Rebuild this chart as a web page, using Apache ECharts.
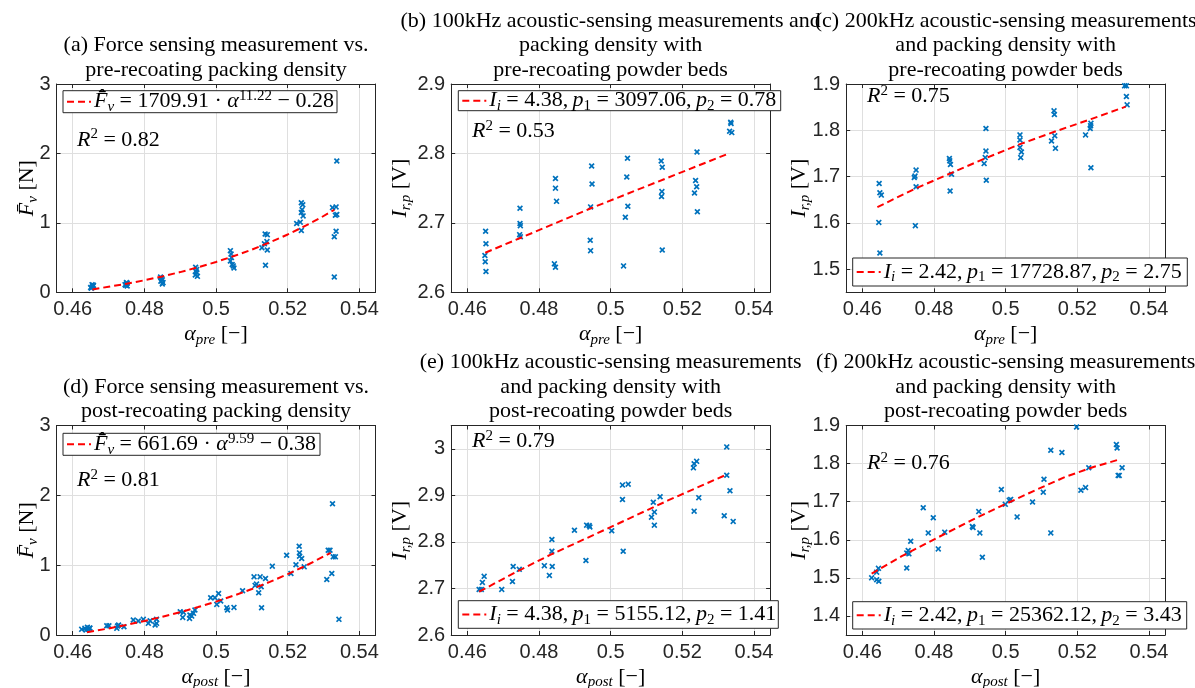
<!DOCTYPE html>
<html>
<head>
<meta charset="utf-8">
<title>Packing density vs. sensing measurements</title>
<script src="https://cdn.jsdelivr.net/npm/echarts@6/dist/echarts.min.js"></script>
<style>
html, body { margin: 0; padding: 0; background: #fff; }
#chart { width: 1195px; height: 688px; }
</style>
</head>
<body>
<div id="chart"></div>
<script>
// ---- tick labels ----
const alphaTicks = [0.46, 0.48, 0.5, 0.52, 0.54];
const forceTicks = [0, 1, 2, 3];
const bTicks = [2.6, 2.7, 2.8, 2.9];
const cTicks = [1.5, 1.6, 1.7, 1.8, 1.9];
const eTicks = [2.6, 2.7, 2.8, 2.9, 3];
const fTicks = [1.4, 1.5, 1.6, 1.7, 1.8, 1.9];

// ---- (a) force vs pre-recoating packing density ----
const aAlpha = [0.4652, 0.4655, 0.4658, 0.4654, 0.4650, 0.4657,
  0.4748, 0.4750, 0.4752, 0.4746, 0.4750, 0.4752,
  0.4845, 0.4848, 0.4850, 0.4846, 0.4852, 0.4850,
  0.4943, 0.4946, 0.4944, 0.4946, 0.4942, 0.4948,
  0.5040, 0.5042, 0.5043, 0.5040, 0.5045, 0.5048, 0.5050,
  0.5137, 0.5143, 0.5142, 0.5135, 0.5128, 0.5143, 0.5138,
  0.5225, 0.5235, 0.5238, 0.5242, 0.5240, 0.5238, 0.5243, 0.5238,
  0.5325, 0.5335, 0.5337, 0.5333, 0.5335, 0.5330, 0.5330, 0.5337];
const aForce = [0.06, 0.08, 0.10, 0.11, 0.07, 0.09,
  0.10, 0.12, 0.13, 0.11, 0.14, 0.09,
  0.22, 0.20, 0.18, 0.16, 0.14, 0.12,
  0.36, 0.33, 0.30, 0.28, 0.25, 0.23,
  0.60, 0.55, 0.50, 0.45, 0.40, 0.38, 0.35,
  0.84, 0.83, 0.73, 0.70, 0.64, 0.61, 0.39,
  0.99, 1.01, 1.29, 1.26, 1.19, 1.15, 1.10, 0.89,
  1.22, 1.23, 1.12, 1.11, 0.88, 0.80, 0.22, 1.89];
const aFitAlpha = [0.4655, 0.470, 0.475, 0.480, 0.485, 0.490, 0.495, 0.500, 0.505, 0.510, 0.515, 0.520, 0.525, 0.529, 0.533];
const aFitForce = [0.041, 0.080, 0.123, 0.173, 0.229, 0.291, 0.360, 0.437, 0.522, 0.615, 0.719, 0.833, 0.959, 1.068, 1.188];

// ---- (b) 100kHz vs pre-recoating ----
const bAlpha = [0.4651, 0.4652, 0.4649, 0.4650, 0.4652,
  0.4747, 0.4747, 0.4748, 0.4746, 0.4748,
  0.4846, 0.4846, 0.4849, 0.4843, 0.4846,
  0.4947, 0.4948, 0.4944, 0.4943, 0.4944,
  0.5047, 0.5045, 0.5048, 0.5041, 0.5036,
  0.5141, 0.5144, 0.5143, 0.5142, 0.5144,
  0.5241, 0.5237, 0.5240, 0.5234, 0.5242,
  0.5335, 0.5336, 0.5332, 0.5338];
const bInt = [2.688, 2.670, 2.653, 2.644, 2.630,
  2.721, 2.699, 2.696, 2.683, 2.680,
  2.764, 2.750, 2.731, 2.641, 2.636,
  2.782, 2.756, 2.723, 2.675, 2.660,
  2.793, 2.766, 2.724, 2.708, 2.638,
  2.789, 2.780, 2.745, 2.738, 2.661,
  2.802, 2.761, 2.752, 2.743, 2.716,
  2.845, 2.843, 2.832, 2.830];
const bFitAlpha = [0.4650, 0.4945, 0.5330];
const bFitInt = [2.657, 2.721, 2.800];

// ---- (c) 200kHz vs pre-recoating ----
const cAlpha = [0.4647, 0.4649, 0.4653, 0.4646, 0.4649,
  0.4750, 0.4747, 0.4745, 0.4750, 0.4748,
  0.4843, 0.4844, 0.4846, 0.4849, 0.4845,
  0.4945, 0.4945, 0.4943, 0.4940, 0.4946,
  0.5040, 0.5040, 0.5040, 0.5044, 0.5042,
  0.5135, 0.5136, 0.5137, 0.5128, 0.5139,
  0.5238, 0.5237, 0.5236, 0.5223, 0.5238,
  0.5332, 0.5337, 0.5337, 0.5339];
const cInt = [1.685, 1.665, 1.660, 1.601, 1.535,
  1.714, 1.701, 1.698, 1.678, 1.594,
  1.739, 1.734, 1.726, 1.705, 1.669,
  1.804, 1.755, 1.741, 1.728, 1.692,
  1.790, 1.779, 1.763, 1.753, 1.741,
  1.842, 1.834, 1.788, 1.777, 1.761,
  1.815, 1.810, 1.804, 1.790, 1.719,
  1.896, 1.896, 1.873, 1.855];
const cFitAlpha = [0.4642, 0.4745, 0.4849, 0.4945, 0.5040, 0.5140, 0.5238, 0.5335];
const cFitInt = [1.634, 1.673, 1.708, 1.740, 1.770, 1.798, 1.824, 1.851];

// ---- (d) force vs post-recoating packing density ----
const dAlpha = [0.4625, 0.4634, 0.4637, 0.4641, 0.4644, 0.4647, 0.4648,
  0.4695, 0.4701, 0.4723, 0.4725, 0.4728, 0.4743,
  0.4769, 0.4783, 0.4797, 0.4811, 0.4816, 0.4830, 0.4834, 0.4834,
  0.4900, 0.4907, 0.4909, 0.4926, 0.4927, 0.4932, 0.4937, 0.4941,
  0.4985, 0.4997, 0.5002, 0.5007, 0.5013, 0.5030, 0.5032, 0.5050,
  0.5074, 0.5106, 0.5109, 0.5113, 0.5119, 0.5123, 0.5126, 0.5127, 0.5138,
  0.5157, 0.5197, 0.5209, 0.5223, 0.5232, 0.5233, 0.5233, 0.5239, 0.5246,
  0.5309, 0.5313, 0.5318, 0.5323, 0.5325, 0.5327, 0.5333, 0.5343];
const dForce = [0.081, 0.095, 0.071, 0.11, 0.081, 0.095, 0.10,
  0.133, 0.133, 0.095, 0.129, 0.143, 0.119,
  0.214, 0.20, 0.224, 0.167, 0.205, 0.143, 0.224, 0.167,
  0.333, 0.252, 0.324, 0.238, 0.286, 0.271, 0.31, 0.357,
  0.533, 0.533, 0.438, 0.595, 0.486, 0.39, 0.357, 0.395,
  0.633, 0.833, 0.71, 0.729, 0.605, 0.833, 0.69, 0.39, 0.81,
  0.986, 1.143, 0.881, 1.005, 1.271, 1.176, 1.129, 1.095, 0.976,
  0.795, 1.214, 1.214, 0.881, 1.88, 1.119, 1.119, 0.224];
const dFitAlpha = [0.464, 0.470, 0.475, 0.480, 0.485, 0.490, 0.495, 0.500, 0.505, 0.510, 0.515, 0.520, 0.525, 0.532];
const dFitForce = [0.039, 0.094, 0.145, 0.201, 0.261, 0.327, 0.400, 0.478, 0.565, 0.658, 0.760, 0.871, 0.991, 1.177];

// ---- (e) 100kHz vs post-recoating ----
const eAlpha = [0.4633, 0.4639, 0.4642, 0.4647, 0.4696, 0.4726, 0.4728, 0.4745,
  0.4815, 0.4829, 0.4836, 0.4836, 0.4837, 0.4899, 0.4931, 0.4933, 0.4940, 0.4942,
  0.5003, 0.5033, 0.5033, 0.5035, 0.5049, 0.5114, 0.5119, 0.5122, 0.5122, 0.5138,
  0.5231, 0.5233, 0.5240, 0.5233, 0.5246, 0.5317, 0.5324, 0.5324, 0.5333, 0.5342];
const eInt = [2.698, 2.698, 2.713, 2.726, 2.698, 2.715, 2.747, 2.741,
  2.749, 2.728, 2.805, 2.780, 2.747, 2.825, 2.760, 2.836, 2.835, 2.832,
  2.824, 2.922, 2.891, 2.780, 2.924, 2.853, 2.885, 2.864, 2.836, 2.897,
  2.959, 2.968, 2.973, 2.866, 2.895, 2.856, 2.943, 3.004, 2.910, 2.844];
const eFitAlpha = [0.4633, 0.4730, 0.4831, 0.4998, 0.5160, 0.5319];
const eFitInt = [2.693, 2.733, 2.772, 2.831, 2.889, 2.943];

// ---- (f) 200kHz vs post-recoating ----
const fAlpha = [0.4626, 0.4640, 0.4640, 0.4645, 0.4646, 0.4724, 0.4724, 0.4728, 0.4730, 0.4735,
  0.4770, 0.4784, 0.4798, 0.4812, 0.4830, 0.4907, 0.4909, 0.4925, 0.4928, 0.4935,
  0.4988, 0.4999, 0.5010, 0.5014, 0.5032, 0.5075, 0.5105, 0.5107, 0.5126, 0.5126,
  0.5157, 0.5198, 0.5210, 0.5223, 0.5232, 0.5309, 0.5311, 0.5314, 0.5317, 0.5325];
const fInt = [1.500, 1.515, 1.495, 1.525, 1.491, 1.565, 1.526, 1.572, 1.563, 1.596,
  1.684, 1.618, 1.658, 1.576, 1.620, 1.635, 1.632, 1.674, 1.618, 1.554,
  1.732, 1.693, 1.704, 1.706, 1.660, 1.699, 1.725, 1.759, 1.835, 1.618,
  1.829, 1.896, 1.730, 1.737, 1.789, 1.850, 1.841, 1.769, 1.769, 1.789];
const fFitAlpha = [0.4626, 0.4710, 0.4798, 0.4900, 0.5002, 0.5085, 0.5166, 0.5245, 0.5318];
const fFitInt = [1.511, 1.557, 1.600, 1.649, 1.695, 1.731, 1.765, 1.791, 1.811];

// ---- layout / styling ----
const SERIF = '"Liberation Serif", "Times New Roman", serif';
const SANS = '"Liberation Sans", Arial, Helvetica, sans-serif';
const AXIS_COLOR = '#262626';
const GRID_COLOR = '#dfdfdf';
const BLUE = '#0072BD';
const XMARK = 'path://M0,2L2,0L5,3L8,0L10,2L7,5L10,8L8,10L5,7L2,10L0,8L3,5Z';

const RICH = {
  n: { fontFamily: SERIF, fontSize: 22, fill: '#000' },
  i: { fontFamily: SERIF, fontSize: 22, fontStyle: 'italic', fill: '#000' },
  sub: { fontFamily: SERIF, fontSize: 15, fontStyle: 'italic', fill: '#000', padding: [11, 0, 0, 0] },
  subn: { fontFamily: SERIF, fontSize: 15, fill: '#000', padding: [11, 0, 0, 0] },
  sup: { fontFamily: SERIF, fontSize: 15, fill: '#000', padding: [0, 0, 11, 0] }
};

const FHAT = '{i|F\u0304\u0302}{sub|v}';
const IRP = '{i|I}{sub|r,p}{n| [V]}';

const panels = [
  { left: 56.6, top: 84, height: 208.3, yMin: 0, yMax: 3, yTicks: forceTicks,
    alpha: aAlpha, vals: aForce, fitA: aFitAlpha, fitV: aFitForce,
    title: '(a) Force sensing measurement vs.\npre-recoating packing density', titleLines: 2,
    xName: '{i|α}{sub|pre}{n| [−]}', yName: '{i|F\u0304}{sub|v}{n| [N]}', yNameGap: 29.5,
    legend: { x: 63, y: 90.7, w: 274, h: 22,
      text: FHAT + '{n| = 1709.91 · }{i|α}{sup|11.22}{n| − 0.28}' },
    r2: { x: 77, y: 140, text: '{i|R}{sup|2}{n| = 0.82}' } },
  { left: 451.2, top: 84, height: 208.3, yMin: 2.6, yMax: 2.9, yTicks: bTicks,
    alpha: bAlpha, vals: bInt, fitA: bFitAlpha, fitV: bFitInt,
    title: '(b) 100kHz acoustic-sensing measurements and\npacking density with\npre-recoating powder beds', titleLines: 3,
    xName: '{i|α}{sub|pre}{n| [−]}', yName: IRP, yNameGap: 51,
    legend: { x: 458.3, y: 90.7, w: 322.4, h: 20,
      text: '{i|I}{sub|i}{n| = 4.38,\u2009}{i|p}{subn|1}{n| = 3097.06,\u2009}{i|p}{subn|2}{n| = 0.78}' },
    r2: { x: 472, y: 131.7, text: '{i|R}{sup|2}{n| = 0.53}' } },
  { left: 846.2, top: 84, height: 208.3, yMin: 1.45, yMax: 1.9, yTicks: cTicks,
    alpha: cAlpha, vals: cInt, fitA: cFitAlpha, fitV: cFitInt,
    title: '(c) 200kHz acoustic-sensing measurements\nand packing density with\npre-recoating powder beds', titleLines: 3,
    xName: '{i|α}{sub|pre}{n| [−]}', yName: IRP, yNameGap: 47,
    legend: { x: 852.7, y: 258, w: 334.6, h: 28,
      text: '{i|I}{sub|i}{n| = 2.42,\u2009}{i|p}{subn|1}{n| = 17728.87,\u2009}{i|p}{subn|2}{n| = 2.75}' },
    r2: { x: 867, y: 96.7, text: '{i|R}{sup|2}{n| = 0.75}' } },
  { left: 56.6, top: 425.5, height: 209.5, yMin: 0, yMax: 3, yTicks: forceTicks,
    alpha: dAlpha, vals: dForce, fitA: dFitAlpha, fitV: dFitForce,
    title: '(d) Force sensing measurement vs.\npost-recoating packing density', titleLines: 2,
    xName: '{i|α}{sub|post}{n| [−]}', yName: '{i|F\u0304}{sub|v}{n| [N]}', yNameGap: 29.5,
    legend: { x: 63, y: 433.3, w: 257, h: 22,
      text: FHAT + '{n| = 661.69 · }{i|α}{sup|9.59}{n| − 0.38}' },
    r2: { x: 77, y: 480.7, text: '{i|R}{sup|2}{n| = 0.81}' } },
  { left: 451.2, top: 425.5, height: 209.5, yMin: 2.6, yMax: 3.05, yTicks: eTicks,
    alpha: eAlpha, vals: eInt, fitA: eFitAlpha, fitV: eFitInt,
    title: '(e) 100kHz acoustic-sensing measurements\nand packing density with\npost-recoating powder beds', titleLines: 3,
    xName: '{i|α}{sub|post}{n| [−]}', yName: IRP, yNameGap: 51,
    legend: { x: 458.3, y: 600.7, w: 320, h: 27.6,
      text: '{i|I}{sub|i}{n| = 4.38,\u2009}{i|p}{subn|1}{n| = 5155.12,\u2009}{i|p}{subn|2}{n| = 1.41}' },
    r2: { x: 472, y: 441.7, text: '{i|R}{sup|2}{n| = 0.79}' } },
  { left: 846.2, top: 425.5, height: 209.5, yMin: 1.35, yMax: 1.9, yTicks: fTicks,
    alpha: fAlpha, vals: fInt, fitA: fFitAlpha, fitV: fFitInt,
    title: '(f) 200kHz acoustic-sensing measurements\nand packing density with\npost-recoating powder beds', titleLines: 3,
    xName: '{i|α}{sub|post}{n| [−]}', yName: IRP, yNameGap: 47,
    legend: { x: 852.7, y: 601.7, w: 334, h: 27.3,
      text: '{i|I}{sub|i}{n| = 2.42,\u2009}{i|p}{subn|1}{n| = 25362.12,\u2009}{i|p}{subn|2}{n| = 3.43}' },
    r2: { x: 867, y: 463.3, text: '{i|R}{sup|2}{n| = 0.76}' } }
];

const GRID_W = 318.9;
const X_MIN = 0.4555;
const X_MAX = 0.5445;
const TITLE_LH = 24.5;

const grids = [];
const xAxes = [];
const yAxes = [];
const series = [];
const graphics = [];

const axisLine = { show: true, onZero: false, lineStyle: { color: AXIS_COLOR, width: 1 } };
const tickStyle = { color: AXIS_COLOR, width: 1 };

panels.forEach((p, i) => {
  grids.push({ left: p.left, top: p.top, width: GRID_W, height: p.height });

  // bottom + top x axes (MATLAB box with inner ticks)
  xAxes.push({
    type: 'value', gridIndex: i, position: 'bottom', min: X_MIN, max: X_MAX,
    axisLine: axisLine,
    axisTick: { show: true, inside: true, length: 4, lineStyle: tickStyle, customValues: alphaTicks },
    axisLabel: { show: true, customValues: alphaTicks, color: AXIS_COLOR, fontFamily: SANS, fontSize: 20, margin: 7 },
    splitLine: { show: true, lineStyle: { color: GRID_COLOR, width: 1 } }
  });
  xAxes.push({
    type: 'value', gridIndex: i, position: 'top', min: X_MIN, max: X_MAX,
    axisLine: axisLine,
    axisTick: { show: true, inside: true, length: 4, lineStyle: tickStyle, customValues: alphaTicks },
    axisLabel: { show: false },
    splitLine: { show: false }
  });
  yAxes.push({
    type: 'value', gridIndex: i, position: 'left', min: p.yMin, max: p.yMax,
    axisLine: axisLine,
    axisTick: { show: true, inside: true, length: 4, lineStyle: tickStyle, customValues: p.yTicks },
    axisLabel: { show: true, customValues: p.yTicks, color: AXIS_COLOR, fontFamily: SANS, fontSize: 20, margin: 6 },
    splitLine: { show: true, lineStyle: { color: GRID_COLOR, width: 1 } }
  });
  yAxes.push({
    type: 'value', gridIndex: i, position: 'right', min: p.yMin, max: p.yMax,
    axisLine: axisLine,
    axisTick: { show: true, inside: true, length: 4, lineStyle: tickStyle, customValues: p.yTicks },
    axisLabel: { show: false },
    splitLine: { show: false }
  });

  series.push({
    type: 'scatter', xAxisIndex: 2 * i, yAxisIndex: 2 * i,
    symbol: XMARK, symbolSize: 6,
    itemStyle: { color: BLUE, opacity: 1 },
    data: p.alpha.map((a, k) => [a, p.vals[k]]),
    z: 2
  });
  series.push({
    type: 'line', xAxisIndex: 2 * i, yAxisIndex: 2 * i,
    showSymbol: false, symbol: 'none', smooth: false,
    lineStyle: { color: '#ff0000', width: 2, type: [7, 4] },
    data: p.fitA.map((a, k) => [a, p.fitV[k]]),
    z: 3
  });

  const cx = p.left + GRID_W / 2;
  const cy = p.top + p.height / 2;
  const bottom = p.top + p.height;

  // title (last line sits 14px above the box)
  graphics.push({
    type: 'text', x: cx, y: p.top - 14 - TITLE_LH * (p.titleLines - 0.5),
    style: { text: p.title, font: '22px ' + SERIF, fill: '#000', lineHeight: TITLE_LH,
      align: 'center', verticalAlign: 'top', textAlign: 'center', textVerticalAlign: 'top' },
    z: 50
  });
  // axis names
  graphics.push({
    type: 'text', x: cx, y: bottom + 42,
    style: { text: p.xName, rich: RICH, fill: AXIS_COLOR,
      align: 'center', verticalAlign: 'middle', textAlign: 'center', textVerticalAlign: 'middle' },
    z: 50
  });
  graphics.push({
    type: 'text', x: p.left - p.yNameGap, y: cy, rotation: Math.PI / 2,
    style: { text: p.yName, rich: RICH, fill: AXIS_COLOR,
      align: 'center', verticalAlign: 'middle', textAlign: 'center', textVerticalAlign: 'middle' },
    z: 50
  });
  // R^2 annotation
  graphics.push({
    type: 'text', x: p.r2.x, y: p.r2.y,
    style: { text: p.r2.text, rich: RICH, align: 'left', verticalAlign: 'middle',
      textAlign: 'left', textVerticalAlign: 'middle' },
    z: 50
  });
  // legend box
  const L = p.legend;
  graphics.push({
    type: 'rect', shape: { x: L.x, y: L.y, width: L.w, height: L.h },
    style: { fill: '#fff', stroke: AXIS_COLOR, lineWidth: 1 }, z: 60
  });
  graphics.push({
    type: 'line', shape: { x1: L.x + 4, y1: L.y + L.h / 2, x2: L.x + 28, y2: L.y + L.h / 2 },
    style: { stroke: '#ff0000', lineWidth: 2, lineDash: [7, 4] }, z: 61
  });
  graphics.push({
    type: 'text', x: L.x + 31, y: L.y + L.h / 2,
    style: { text: L.text, rich: RICH, align: 'left', verticalAlign: 'middle',
      textAlign: 'left', textVerticalAlign: 'middle' },
    z: 61
  });
});

const chart = echarts.init(document.getElementById('chart'), null, { renderer: 'canvas' });
chart.setOption({
  animation: false,
  backgroundColor: '#fff',
  grid: grids,
  xAxis: xAxes,
  yAxis: yAxes,
  series: series,
  graphic: { elements: graphics }
});
window.addEventListener('resize', () => chart.resize());
</script>
</body>
</html>
